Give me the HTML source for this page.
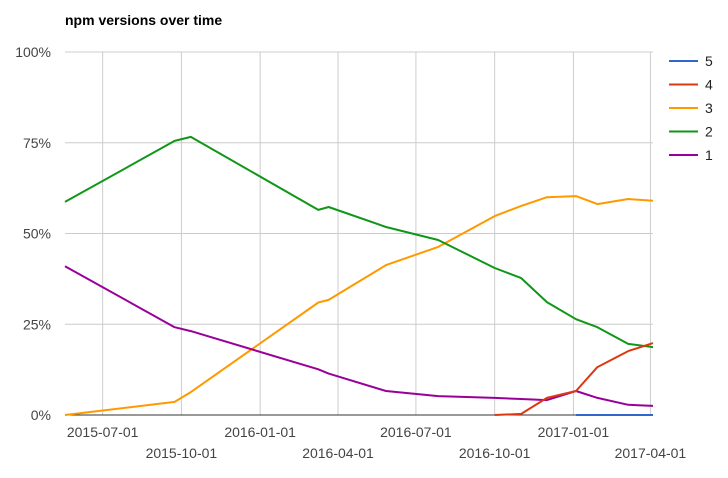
<!DOCTYPE html>
<html><head><meta charset="utf-8"><style>
body{margin:0;background:#fff;font-family:"Liberation Sans",Arial,sans-serif;}
svg text{font-family:"Liberation Sans",Arial,sans-serif;}
</style></head><body>
<svg id="c" width="728" height="473">
<text x="65" y="25" font-size="14" font-weight="bold" fill="#000">npm versions over time</text>
<g id="grid"></g><g id="axes"></g><g id="series"></g><g id="legend"></g>
</svg>
<script>
const dates=["2015-05-18","2015-09-23","2015-10-12","2016-03-09","2016-03-21","2016-05-27","2016-07-27","2016-10-01","2016-11-01","2016-12-01","2017-01-04","2017-01-29","2017-03-06","2017-04-04"];
const v2=[58.7,75.5,76.6,56.5,57.3,51.8,48.2,40.5,37.7,31.1,26.4,24.2,19.6,18.7];
const v3=[0,3.6,6.3,31,31.7,41.3,46.3,54.8,57.6,60,60.3,58.1,59.5,59];
const v1=[41,24.2,23.1,12.6,11.4,6.6,5.2,4.7,4.4,4.1,6.6,4.7,2.8,2.5];
const v4=[null,null,null,null,null,null,null,0,0.3,4.7,6.6,13.2,17.6,19.8];
const v5=[null,null,null,null,null,null,null,null,null,null,0,0,0,0];
const seriesNames=["5","4","3","2","1"];
const colors=["#3366cc","#dc3912","#ff9900","#109618","#990099"];
const yTicks=[0,25,50,75,100];
const xTicks=["2015-07-01","2015-10-01","2016-01-01","2016-04-01","2016-07-01","2016-10-01","2017-01-01","2017-04-01"];
const NS="http://www.w3.org/2000/svg";
const L=65,R=653,T=52,B=415;
const t0=Date.parse("2015-05-18"),t1=Date.parse("2017-04-04");
const x=d=>L+(Date.parse(d)-t0)/(t1-t0)*(R-L);
const y=v=>B-v/100*(B-T);
function mk(tag,attrs,parent){const e=document.createElementNS(NS,tag);for(const k in attrs)e.setAttribute(k,attrs[k]);parent.appendChild(e);return e;}
const grid=document.getElementById('grid'),axes=document.getElementById('axes'),ser=document.getElementById('series'),leg=document.getElementById('legend');
yTicks.forEach(t=>{
  const l=mk('line',{x1:L,x2:R,y1:y(t),y2:y(t),stroke:t===0?'#333':'#ccc','stroke-width':1},t===0?axes:grid);
  
  
  const tx=mk('text',{x:51,y:y(t)+5,'text-anchor':'end','font-size':14,fill:'#444'},axes);
  tx.textContent=t+'%';
  
  
});
xTicks.forEach((d,i)=>{
  const l=mk('line',{x1:x(d),x2:x(d),y1:T,y2:B,stroke:'#ccc','stroke-width':1},grid);
  
  
  const tx=mk('text',{x:x(d),y:i%2===0?437:458,'text-anchor':'middle','font-size':14,fill:'#444'},axes);
  tx.textContent=d;
  
  
});
const vals=[v5,v4,v3,v2,v1];
[2,3,4,1,0].forEach(s=>{
  let d='',pen=false;
  vals[s].forEach((v,i)=>{if(v===null){pen=false;return;}d+=(pen?'L':'M')+x(dates[i]).toFixed(1)+','+y(v).toFixed(1);pen=true;});
  const p=mk('path',{d:d,fill:'none',stroke:colors[s],'stroke-width':2,'stroke-linejoin':'round'},ser);
  
  
});
seriesNames.forEach((n,i)=>{
  const yy=61+i*23.5;
  const g=mk('g',{},leg);
  
  
  mk('line',{x1:669,x2:698,y1:yy,y2:yy,stroke:colors[i],'stroke-width':2},g);
  const tx=mk('text',{x:705,y:yy+5,'font-size':14,fill:'#222'},g);
  tx.textContent=n;
});
</script>
</body></html>
